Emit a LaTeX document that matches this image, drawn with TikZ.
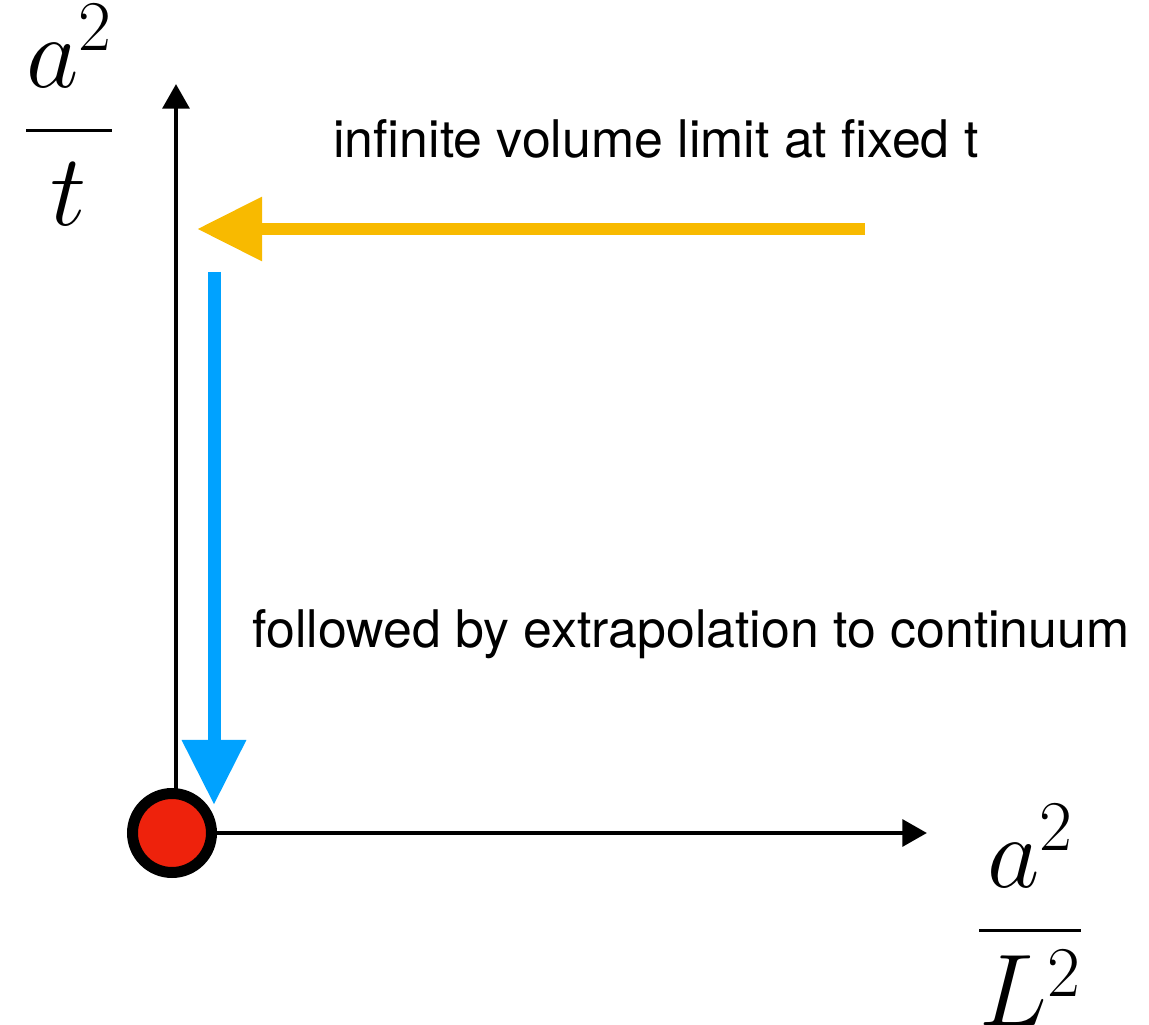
\documentclass[tikz,border=0pt]{standalone}
\usepackage{fix-cm}
\usepackage{amsmath}
\usepackage{fontspec}
\setsansfont{TeX Gyre Heros}
\usepackage{tikz}
\usetikzlibrary{arrows.meta,positioning}
\definecolor{LimOr}{RGB}{248,186,0}
\definecolor{ContBl}{RGB}{0,162,255}
\definecolor{PtRed}{RGB}{238,34,12}
\tikzset{
  axis/.style={-{Triangle[length=14pt,width=15pt]},line width=2.8pt,black},
  limit/.style={-{Triangle[length=1.3cm,width=1.22cm]},line width=0.25cm,LimOr},
  contin/.style={-{Triangle[length=1.3cm,width=1.22cm]},line width=0.26cm,ContBl},
  dot/.style={circle,draw=black,fill=PtRed,line width=0.22cm,
              minimum size=1.58cm,inner sep=0pt},
  lbl/.style={font=\sffamily\fontsize{29.5}{34}\selectfont,anchor=base},
  frac/.style={font=\fontsize{58}{68}\selectfont,inner sep=0pt},
}
\begin{document}
\begin{tikzpicture}
  \useasboundingbox (0,0) rectangle (22.98,20.5);
  % axes
  \coordinate (ybot) at (3.52,3.84);
  \coordinate (ytop) at (3.52,18.82);
  \coordinate (xend) at (18.54,3.84);
  \draw[axis] (ybot) -- (ytop);
  \node[dot] (o) at (3.44,3.84) {};
  \draw[axis] (o.east) -- (xend);
  \node[frac] (ylab) at (1.38,18.2) {$\genfrac{}{}{2.2pt}{0}{a^2}{t}$};
  \node[frac] (xlab) at (20.6,2.2) {$\genfrac{}{}{2.2pt}{0}{a^2}{L^2}$};
  % infinite volume
  \coordinate (ostart) at (17.3,15.92);
  \coordinate (oend) at (3.94,15.92);
  \draw[limit] (ostart) -- (oend);
  \node[lbl] (tinf) at (13.12,17.34) {infinite volume limit at fixed t};
  % continuum
  \coordinate (bstart) at (4.28,15.06);
  \coordinate (bend) at (4.28,4.4);
  \draw[contin] (bstart) -- (bend);
  \node[lbl] (tcont) at (13.82,7.54) {followed by extrapolation to continuum};
\end{tikzpicture}
\end{document}
